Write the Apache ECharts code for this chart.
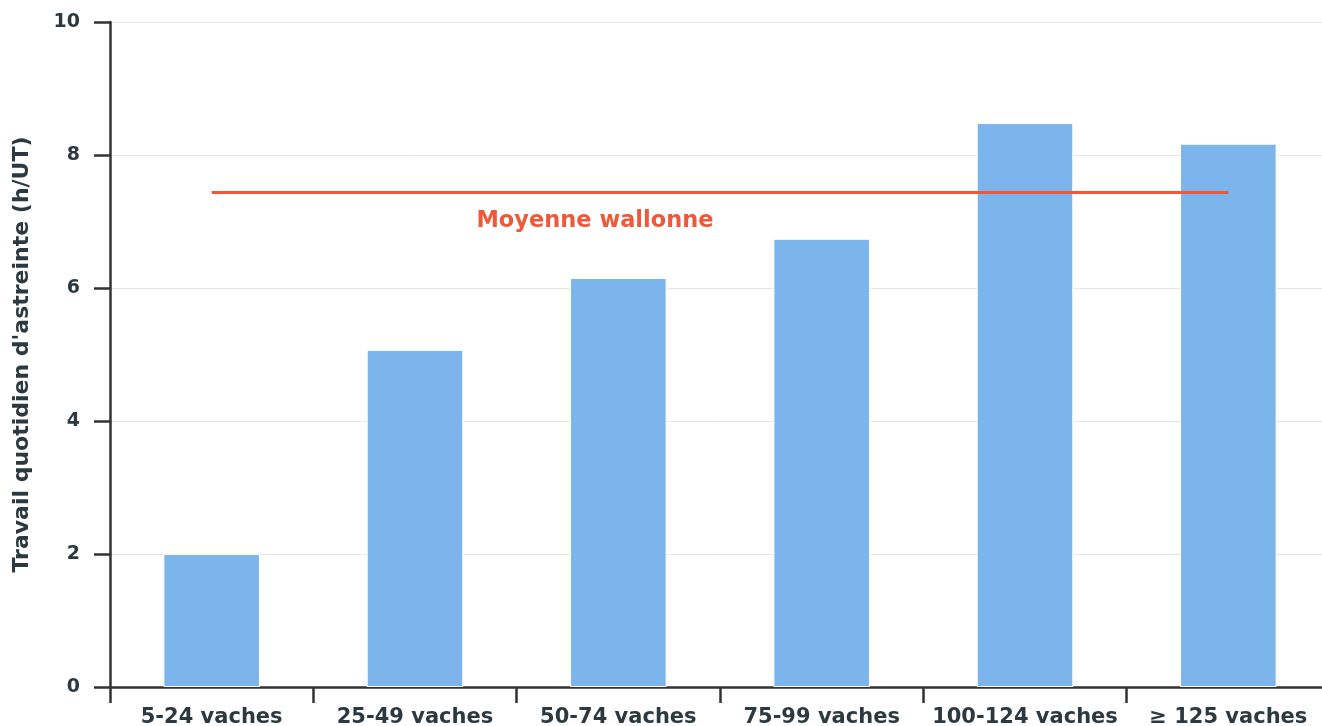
<!DOCTYPE html>
<html>
<head>
<meta charset="utf-8">
<script src="https://cdn.jsdelivr.net/npm/echarts@6/dist/echarts.min.js"></script>
<style>
html,body{margin:0;padding:0;background:#fff;}
#chart{width:1322px;height:726px;}
</style>
</head>
<body>
<div id="chart"></div>
<script>
const categories = ['5-24 vaches', '25-49 vaches', '50-74 vaches', '75-99 vaches', '100-124 vaches', '≥ 125 vaches'];
const values = [2.0, 5.07, 6.15, 6.74, 8.48, 8.17];
const meanValue = 7.44;
const meanLabel = 'Moyenne wallonne';
const yAxisTitle = "Travail quotidien d'astreinte (h/UT)";
const yTicks = [0, 2, 4, 6, 8, 10];

const chart = echarts.init(document.getElementById('chart'), null, {renderer: 'canvas'});
const textColor = '#2d3940';
const font = 'DejaVu Sans';
chart.setOption({
  animation: false,
  backgroundColor: '#ffffff',
  grid: {left: 110, right: -8, top: 22, bottom: 39, containLabel: false, outerBoundsMode: 'none'},
  xAxis: {
    type: 'category',
    data: categories,
    axisLine: {show: true, lineStyle: {color: '#333333', width: 2.5}},
    axisTick: {show: true, length: 16, lineStyle: {color: '#333333', width: 2.5}},
    axisLabel: {color: textColor, fontFamily: font, fontWeight: 'bold', fontSize: 21, margin: 20, interval: 0, hideOverlap: false}
  },
  yAxis: {
    type: 'value',
    min: yTicks[0],
    max: yTicks[yTicks.length - 1],
    interval: 2,
    name: yAxisTitle,
    nameLocation: 'middle',
    nameGap: 77,
    nameTextStyle: {color: textColor, fontFamily: font, fontWeight: 'bold', fontSize: 22},
    axisLine: {show: true, lineStyle: {color: '#333333', width: 2.5}},
    axisTick: {show: true, length: 16, lineStyle: {color: '#333333', width: 2.5}},
    axisLabel: {color: textColor, fontFamily: font, fontWeight: 'bold', fontSize: 19, margin: 30},
    splitLine: {show: true, lineStyle: {color: '#e6e6e6', width: 1}}
  },
  series: [{
    type: 'bar',
    data: values,
    barWidth: '47.5%',
    itemStyle: {color: '#7cb5ec', borderColor: '#ffffff', borderWidth: 1},
    markLine: {
      silent: true,
      symbol: ['none', 'none'],
      lineStyle: {color: '#f0583a', width: 3, type: 'solid'},
      label: {
        show: true,
        position: 'middle',
        formatter: meanLabel,
        color: '#f0583a',
        fontFamily: font,
        fontWeight: 'bold',
        fontSize: 22.5,
        offset: [-125, 45]
      },
      data: [[
        {coord: [categories[0], meanValue]},
        {coord: [categories[categories.length - 1], meanValue]}
      ]]
    }
  }]
});
</script>
</body>
</html>
